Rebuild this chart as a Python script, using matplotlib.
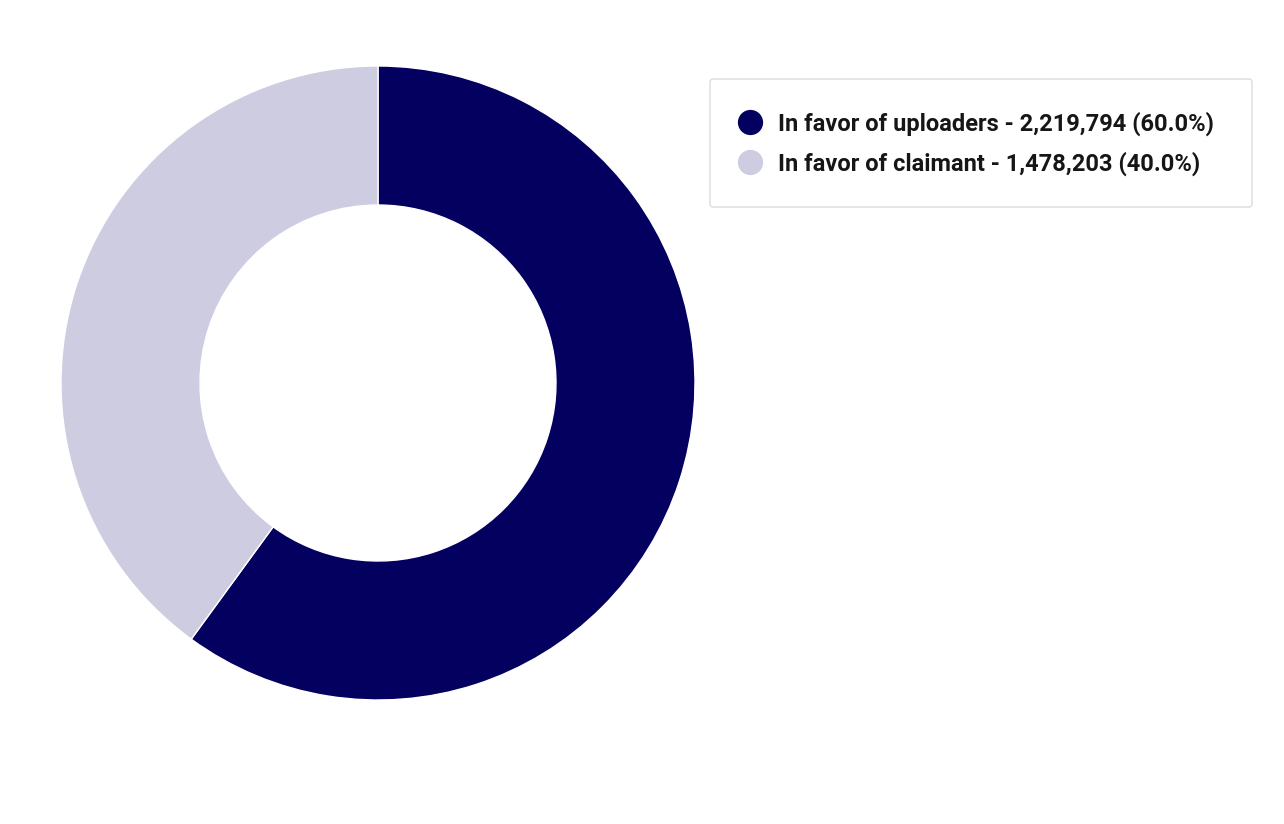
import matplotlib
matplotlib.use("Agg")
import matplotlib.pyplot as plt
from matplotlib.patches import FancyBboxPatch

categories = ["In favor of uploaders", "In favor of claimant"]
values = [2219794, 1478203]
colors = ["#03005f", "#cdcce0"]

W, H = 1284, 824
fig = plt.figure(figsize=(W / 100, H / 100), dpi=100)
ax = fig.add_axes([0, 0, 1, 1])
ax.set_xlim(0, W)
ax.set_ylim(0, H)
ax.set_aspect("equal")
ax.axis("off")

cx, cy = 378, H - 383
R, r = 317, 178
ax.pie(values, colors=colors, startangle=90, counterclock=False,
       radius=R, center=(cx, cy),
       wedgeprops=dict(width=R - r, edgecolor="white", linewidth=1))
ax.set_xlim(0, W)
ax.set_ylim(0, H)

# legend
box = FancyBboxPatch((710, H - 207), 542, 128,
                     boxstyle="round,pad=0,rounding_size=3",
                     facecolor="white", edgecolor="#dcdcdc", linewidth=1)
ax.add_patch(box)
total = sum(values)
ys = [122, 162]
for cat, val, col, y in zip(categories, values, colors, ys):
    ax.scatter([749.5], [H - y], s=330, color=col, zorder=3, linewidths=0)
    ax.text(778, H - y - 8.5, f"{cat} - {val:,} ({val / total * 100:.1f}%)",
            fontsize=17, fontfamily="Roboto", fontweight="bold",
            color="#161616", va="baseline", ha="left")

fig.savefig("out.png", dpi=100)
